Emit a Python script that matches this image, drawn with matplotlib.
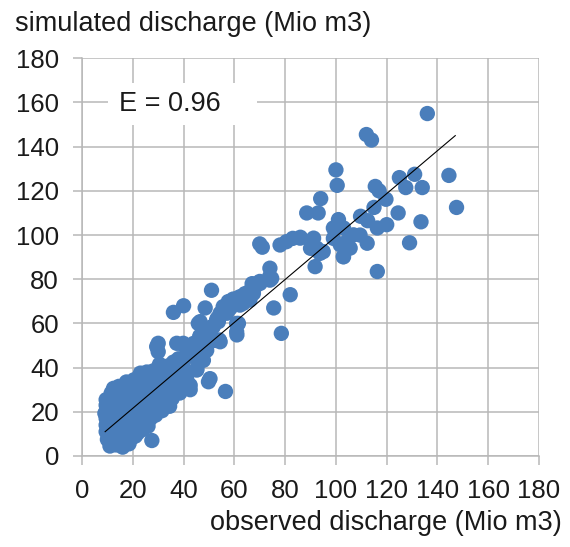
import numpy as np
import matplotlib
matplotlib.use("Agg")
import matplotlib.pyplot as plt
from matplotlib.patches import Rectangle

# observed / simulated discharge (Mio m3)
low_pts = [
    (11, 4.5), (13.5, 5), (16, 4), (18.5, 5.5),
    (10, 7.5), (12.5, 8), (15, 7), (17, 8.5), (19.5, 8), (21, 9),
    (9.5, 11), (12, 11.5), (14.5, 10.5), (17, 11), (19.5, 11.5), (22, 10.5), (24, 12),
    (9.5, 14), (12, 14.5), (14.5, 13.5), (17, 14), (19.5, 15), (22, 14), (24.5, 14.5), (26, 13.5),
    (9.5, 17), (12, 17.5), (14.5, 16.5), (17, 17), (19.5, 18), (22, 17), (24.5, 17.5), (27, 17), (29, 18.5),
    (9.5, 20), (12, 20.5), (14.5, 19.5), (17, 20), (19.5, 21), (22, 20), (24.5, 20.5), (27, 20), (29.5, 21),
    (31.5, 20.5),
    (9.5, 23), (12, 23.5), (14.5, 22.5), (17, 23), (19.5, 24), (22, 23), (24.5, 23.5), (27, 23), (29.5, 24),
    (32, 23), (34.5, 22.5),
    (9.5, 25.5), (12.5, 26), (15, 25.5), (17.5, 26.5), (20, 26), (22.5, 27), (25, 26), (27.5, 26.5), (30, 26),
    (32.5, 27), (35.5, 26),
    (11.5, 28.5), (14, 29.5), (17, 29), (19.5, 29.5), (22, 28.5), (24.5, 29.5), (27, 29), (29.5, 30), (32, 29),
    (35, 29.5), (38.5, 28.5),
    (14.5, 31.5), (17.5, 33.5), (20, 32), (22.5, 33), (25, 32), (27.5, 33), (30, 32.5), (33, 32), (36, 33),
    (39.5, 32),
    (20.5, 34.5), (23, 35.5), (26, 35), (29, 36), (32, 35), (35, 36), (38, 35.5), (41, 35),
    (23, 37.5), (25.5, 38), (28, 38.5), (31, 38), (34, 39), (37, 38),
    (30.5, 41.5), (33, 40.5), (36, 42.5), (39.5, 41),
    (27.5, 7), (12.4, 30.6), (9, 19.3),
]

mid_pts = [
    (42.6, 30), (41.2, 35), (40.6, 38), (45.2, 39.4), (50.4, 35), (49.8, 33.6), (56.5, 29.2), (42.6, 32),
    (45.2, 38.9), (40, 39.6), (34.7, 41.1), (38, 44), (44.5, 44.7), (41.2, 45.5), (47.8, 43.3), (49.1, 47.8),
    (52.4, 52.3), (43.9, 47.9), (47.2, 46.4), (44.6, 44.9), (39.9, 42.4), (30, 51), (30, 47.2), (29.4, 49.5),
    (37.3, 51), (40, 50.2), (44, 51), (46.5, 54), (47.2, 52.5), (39.9, 51), (54.4, 51.7), (47.8, 49.7),
    (41.2, 49.7), (46.4, 54.3), (50.4, 57.3), (51.1, 58.5), (53.7, 60.8), (46.5, 60.8), (45.8, 60),
    (53, 61.6), (54.4, 64.6), (61.6, 60), (61, 54.8), (36, 65), (40, 68), (48.5, 67), (51, 75),
    (55.7, 65.3), (58.3, 69.8), (60.9, 71.3), (64.8, 72.1), (67.5, 73.6), (57, 67.6), (59.6, 68.3),
    (63.5, 69.1), (66.1, 70.6), (62.2, 68.3), (55.6, 67.6), (57.6, 69.9), (60.9, 69.1), (64.9, 70.6),
    (59.5, 71), (62.2, 72.1), (64.2, 73.5), (66.8, 75.9), (67, 78), (67.5, 75.1), (70, 79), (70.1, 78.1),
    (74, 79.6), (73.8, 81), (74, 85), (74.7, 80.4), (68.8, 77.4), (82, 73), (75.5, 67), (78.5, 55.5),
    (60.9, 56.2), (60.9, 60), (54.1, 52.5), (49.1, 57), (51.7, 58.5), (57, 64.6), (53.3, 62.3),
    (58.3, 66.8),
]

high_pts = [
    (136, 155), (112, 145.5), (114, 143), (100, 129.5), (100.5, 122.5), (144.5, 127), (147.5, 112.5),
    (125, 126), (131, 127.5), (127.5, 121.5), (134, 121.5), (115.5, 122), (117, 120), (115, 112.5),
    (124.5, 110), (133.5, 106), (129, 96.5), (116.3, 83.5), (94, 116.5), (88.5, 110), (93, 110),
    (109.7, 108.5), (112.5, 106.5), (120, 104.7), (116.3, 103.2), (119.7, 116.2), (101, 107), (99, 103.2),
    (103, 103.2), (101.7, 95.6), (104.3, 97.1), (103, 90.2), (106.9, 100.1), (105.6, 94.1), (112.3, 96.3),
    (99, 98.5), (109.5, 100), (91.2, 98.6), (92.5, 94), (91.8, 85.7), (85.9, 98.6), (90, 94),
    (95, 92.5), (83, 98.5), (78, 95.5), (80.5, 97), (86, 99), (70, 96), (71, 94.5), (91.1, 94),
    (93.7, 91.7), (102.9, 90.2),
]

trend_x = [9.1, 147.0]
trend_y = [11.0, 145.0]

nse_text = "E = 0.96"
xlabel = "observed discharge (Mio m3)"
ylabel = "simulated discharge (Mio m3)"
ticks = list(range(0, 181, 20))

plt.rcParams['font.family'] = ['Liberation Sans', 'DejaVu Sans']

pts = np.array(low_pts + mid_pts + high_pts)

fig = plt.figure(figsize=(5.70, 5.47), dpi=100)
ax = fig.add_axes([0.1439, 0.1664, 0.8018, 0.727])

ax.scatter(pts[:, 0], pts[:, 1], s=122, color='#4a7ebb', edgecolors='none', zorder=3)
ax.plot(trend_x, trend_y, color='black', lw=0.8, zorder=4)

ax.set_xlim(0, 180)
ax.set_ylim(0, 180)
ax.set_xticks(ticks)
ax.set_yticks(ticks)
ax.grid(True, color='#b8b8b8', lw=1.1, zorder=0)
ax.set_axisbelow(True)
for side in ['top', 'right']:
    ax.spines[side].set_visible(False)
for side in ['left', 'bottom']:
    ax.spines[side].set_color('#b8b8b8')
    ax.spines[side].set_linewidth(1.1)
ax.tick_params(direction='out', length=6.5, width=1.1, color='#b8b8b8',
               labelsize=18.5, labelcolor='#1a1a1a')
ax.tick_params(axis='y', pad=10)
ax.tick_params(axis='x', pad=10)

# white box behind the efficiency label
ax.add_patch(Rectangle((10.3, 150), 58.6, 19, facecolor='white', edgecolor='none', zorder=2))
ax.text(34.7, 159.5, nse_text, fontsize=19.5, color='#1a1a1a', ha='center', va='center', zorder=5)

fig.text(0.026, 0.944, ylabel, fontsize=19.5, color='#1a1a1a', ha='left', va='baseline')
fig.text(0.986, 0.031, xlabel, fontsize=19.5, color='#1a1a1a', ha='right', va='baseline')

fig.savefig('out.png', dpi=100, facecolor='white')
